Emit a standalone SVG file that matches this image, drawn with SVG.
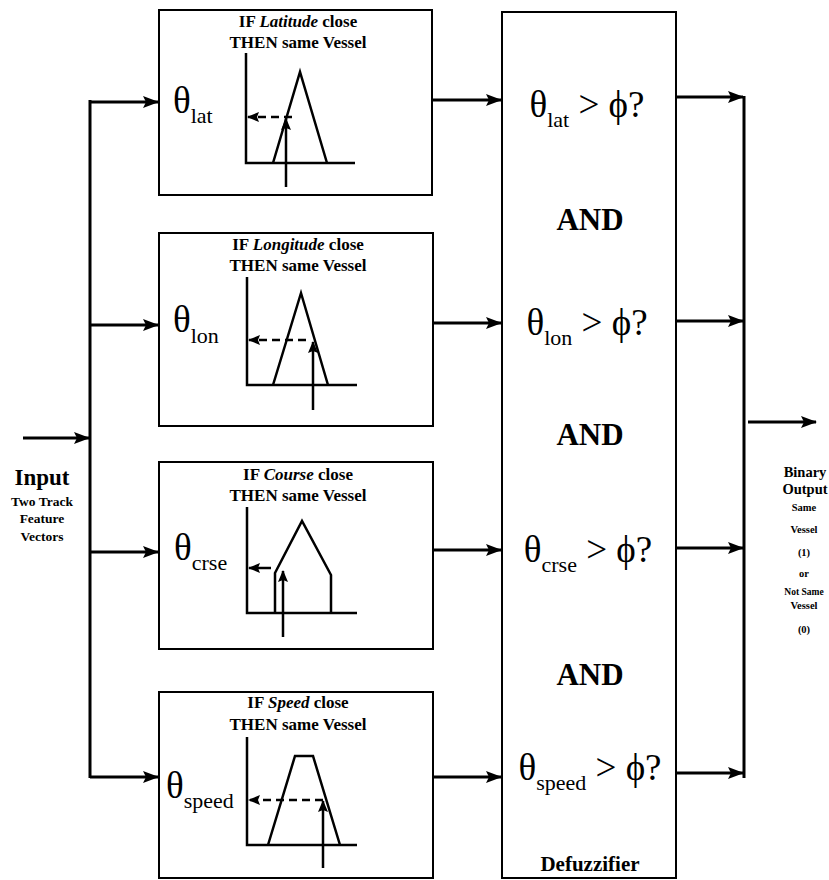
<svg xmlns="http://www.w3.org/2000/svg" width="829" height="880" viewBox="0 0 829 880" font-family="'Liberation Serif', serif">
<style>
.box{fill:none;stroke:#000;stroke-width:2}
.ln{fill:none;stroke:#000;stroke-width:3}
.ax{fill:none;stroke:#000;stroke-width:2.5}
.dash{fill:none;stroke:#000;stroke-width:2.5;stroke-dasharray:8 5}
.t{font-family:"Liberation Serif",serif;fill:#000}
.title{font-size:17px;font-weight:bold;text-anchor:middle}
.th{font-size:37px}
.sub{font-size:22px}
.and{font-size:31px;font-weight:bold;text-anchor:middle}
</style>
<defs>
<marker id="ah" markerUnits="userSpaceOnUse" markerWidth="16" markerHeight="12" refX="15" refY="6" orient="auto"><path d="M0,0 L16,6 L0,12 L3,6 z" fill="#000"/></marker>
<marker id="sh" markerUnits="userSpaceOnUse" markerWidth="12" markerHeight="10" refX="11" refY="5" orient="auto"><path d="M0,0 L12,5 L0,10 L2,5 z" fill="#000"/></marker>
</defs>
<rect width="829" height="880" fill="#fff"/>

<g id="connectors">
<line class="ln" x1="23" y1="438" x2="89" y2="438" marker-end="url(#ah)"/>
<line class="ln" x1="90" y1="100" x2="90" y2="778"/>
<line class="ln" x1="90" y1="102" x2="158" y2="102" marker-end="url(#ah)"/>
<line class="ln" x1="90" y1="325" x2="158" y2="325" marker-end="url(#ah)"/>
<line class="ln" x1="90" y1="552" x2="158" y2="552" marker-end="url(#ah)"/>
<line class="ln" x1="90" y1="777" x2="158" y2="777" marker-end="url(#ah)"/>
<line class="ln" x1="433" y1="100" x2="501" y2="100" marker-end="url(#ah)"/>
<line class="ln" x1="433" y1="323" x2="501" y2="323" marker-end="url(#ah)"/>
<line class="ln" x1="433" y1="550" x2="501" y2="550" marker-end="url(#ah)"/>
<line class="ln" x1="433" y1="777" x2="501" y2="777" marker-end="url(#ah)"/>
<line class="ln" x1="676" y1="97" x2="743" y2="97" marker-end="url(#ah)"/>
<line class="ln" x1="676" y1="321" x2="743" y2="321" marker-end="url(#ah)"/>
<line class="ln" x1="676" y1="548" x2="743" y2="548" marker-end="url(#ah)"/>
<line class="ln" x1="676" y1="773" x2="743" y2="773" marker-end="url(#ah)"/>
<line class="ln" x1="744" y1="96" x2="744" y2="778"/>
<line class="ln" x1="748" y1="422" x2="816" y2="422" marker-end="url(#ah)"/>
</g>

<g id="input-label" class="t" font-weight="bold" text-anchor="middle">
<text x="42" y="485" font-size="23">Input</text>
<text x="42" y="506" font-size="13.5">Two Track</text>
<text x="42" y="523" font-size="13.5">Feature</text>
<text x="42" y="541" font-size="13.5">Vectors</text>
</g>

<g id="rule-lat">
<rect class="box" x="159" y="10" width="273" height="185"/>
<text class="t title" x="298" y="27">IF <tspan font-style="italic">Latitude</tspan> close</text>
<text class="t title" x="298" y="48">THEN same Vessel</text>
<text class="t th" x="173" y="113">θ<tspan class="sub" dy="10">lat</tspan></text>
<polyline class="ax" points="246,53 246,163 355,163"/>
<polyline class="ax" points="273,163 300,72 327,163"/>
<line class="ax" x1="286" y1="187" x2="286" y2="119" marker-end="url(#sh)"/>
<line class="dash" x1="292" y1="117" x2="248" y2="117" marker-end="url(#sh)"/>
</g>

<g id="rule-lon">
<rect class="box" x="159" y="233" width="274" height="193"/>
<text class="t title" x="298" y="250">IF <tspan font-style="italic">Longitude</tspan> close</text>
<text class="t title" x="298" y="271">THEN same Vessel</text>
<text class="t th" x="173" y="332">θ<tspan class="sub" dy="11">lon</tspan></text>
<polyline class="ax" points="247,277 247,385 357,385"/>
<polyline class="ax" points="273,385 301,293 328,385"/>
<line class="ax" x1="313" y1="410" x2="313" y2="342" marker-end="url(#sh)"/>
<line class="dash" x1="306" y1="340" x2="249" y2="340" marker-end="url(#sh)"/>
</g>

<g id="rule-crse">
<rect class="box" x="159" y="462" width="274" height="187"/>
<text class="t title" x="298" y="480">IF <tspan font-style="italic">Course</tspan> close</text>
<text class="t title" x="298" y="501">THEN same Vessel</text>
<text class="t th" x="174" y="560">θ<tspan class="sub" dy="10">crse</tspan></text>
<polyline class="ax" points="247,507 247,613 357,613"/>
<polyline class="ax" points="275,613 275,573 302,521 331,575 331,613"/>
<line class="ax" x1="283" y1="637" x2="283" y2="571" marker-end="url(#sh)"/>
<line class="ax" x1="271" y1="568" x2="249" y2="568" marker-end="url(#sh)"/>
</g>

<g id="rule-speed">
<rect class="box" x="159" y="692" width="274" height="186"/>
<text class="t title" x="298" y="708">IF <tspan font-style="italic">Speed</tspan> close</text>
<text class="t title" x="298" y="730">THEN same Vessel</text>
<text class="t th" x="166" y="798">θ<tspan class="sub" dy="10" textLength="50" lengthAdjust="spacingAndGlyphs">speed</tspan></text>
<polyline class="ax" points="247,737 247,845 357,845"/>
<polyline class="ax" points="268,845 295,756 313,756 340,845"/>
<line class="ax" x1="323" y1="868" x2="323" y2="801" marker-end="url(#sh)"/>
<line class="dash" x1="323" y1="800" x2="249" y2="800" marker-end="url(#sh)"/>
</g>

<g id="defuzzifier">
<rect class="box" x="502" y="12" width="174" height="866"/>
<text class="t th" x="587" y="117" text-anchor="middle">θ<tspan class="sub" dy="10">lat</tspan><tspan dy="-10"> &gt; ϕ?</tspan></text>
<text class="t and" x="590" y="230">AND</text>
<text class="t th" x="587" y="335" text-anchor="middle">θ<tspan class="sub" dy="10">lon</tspan><tspan dy="-10"> &gt; ϕ?</tspan></text>
<text class="t and" x="590" y="445">AND</text>
<text class="t th" x="588" y="562" text-anchor="middle">θ<tspan class="sub" dy="10">crse</tspan><tspan dy="-10"> &gt; ϕ?</tspan></text>
<text class="t and" x="590" y="685">AND</text>
<text class="t th" x="590" y="780" text-anchor="middle">θ<tspan class="sub" dy="10">speed</tspan><tspan dy="-10"> &gt; ϕ?</tspan></text>
<text class="t" x="590" y="871" font-size="21" font-weight="bold" text-anchor="middle">Defuzzifier</text>
</g>

<g id="output-label" class="t" font-weight="bold" text-anchor="middle">
<text x="805" y="477" font-size="14.5">Binary</text>
<text x="805" y="494" font-size="14.5">Output</text>
<g font-size="10.5">
<text x="804" y="511">Same</text>
<text x="804" y="533">Vessel</text>
<text x="804" y="556">(1)</text>
<text x="804" y="577">or</text>
<text x="804" y="595" font-size="9.5">Not Same</text>
<text x="804" y="609">Vessel</text>
<text x="804" y="633">(0)</text>
</g>
</g>
</svg>
